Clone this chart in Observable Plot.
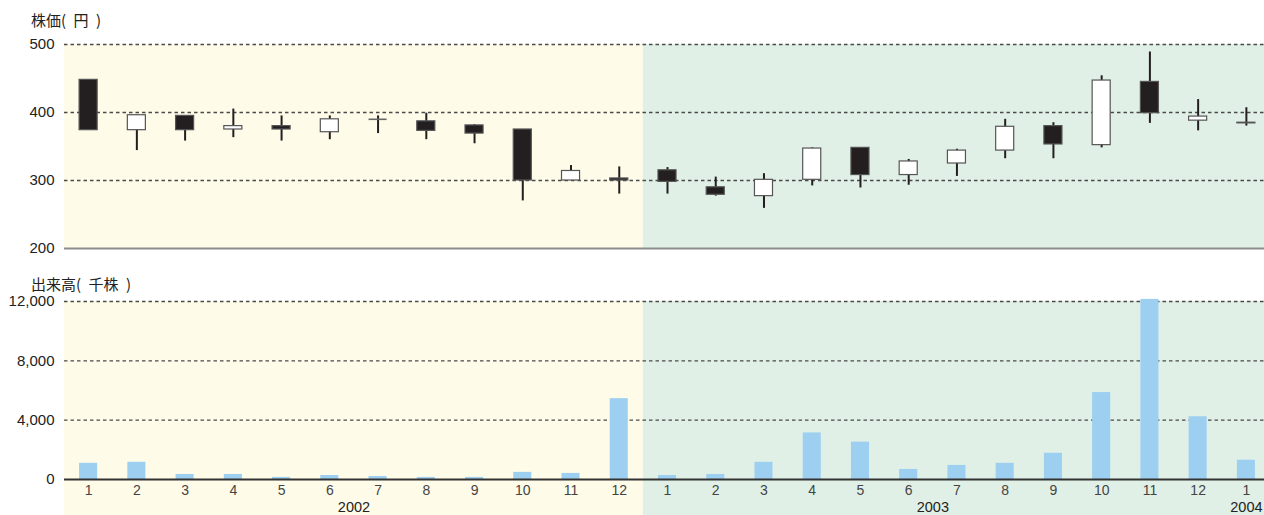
<!DOCTYPE html>
<html><head><meta charset="utf-8">
<script src="https://cdn.jsdelivr.net/npm/d3@7"></script>
<script src="https://cdn.jsdelivr.net/npm/@observablehq/plot@0.6"></script>
<style>
html,body{margin:0;padding:0;overflow:hidden;background:#fff;width:1264px;height:515px}
#wrap{position:relative;width:1264px;height:515px;overflow:hidden}
#top{position:absolute;left:0;top:0;width:1270px}
#bot{position:absolute;left:0;top:260px;width:1270px}
.title{position:absolute;left:31px;font-family:"Noto Sans CJK JP",sans-serif;font-size:15px;line-height:15px;color:#222;z-index:2;white-space:pre}
svg{display:block;max-width:none !important}
</style></head><body>
<div id="wrap">
<div id="top"></div>
<div id="bot"></div>
<div class="title" style="top:12px">株価(&#8194;円&#8194;)</div>
<div class="title" style="top:276px">出来高(&#8194;千株&#8194;)</div>
</div>
<script>
// ---- data ----
const monthLabels = ["1","2","3","4","5","6","7","8","9","10","11","12",
                     "1","2","3","4","5","6","7","8","9","10","11","12","1"];
const years = [2002,2002,2002,2002,2002,2002,2002,2002,2002,2002,2002,2002,
               2003,2003,2003,2003,2003,2003,2003,2003,2003,2003,2003,2003,2004];
const priceOpen  = [448,374,395,375,380,371,390,387,381,375,300,303, 315,290,277,301,348,308,325,344,380,352,445,388,385];
const priceHigh  = [448,396,395,405,395,395,395,399,382,375,322,320, 319,305,310,348,348,331,346,390,385,454,489,419,407];
const priceLow   = [374,344,358,363,358,360,369,360,354,270,300,280, 280,277,259,292,289,293,306,332,332,348,384,373,380];
const priceClose = [374,396,374,380,375,390,390,373,369,300,314,300, 298,279,301,347,308,328,344,379,353,447,399,394,384];
const volume     = [1090,1160,340,340,140,270,200,140,140,480,410,5450,
                    270,340,1160,3140,2520,680,950,1090,1770,5860,12140,4230,1300];
const priceTicks  = [200,300,400,500];
const volumeTicks = [0,4000,8000,12000];
const yearFill = {2002:"#fefbe9", 2003:"#e1f0e6", 2004:"#e1f0e6"};

// ---- derived tables ----
const rows = monthLabels.map((m,i)=>({i, month:m, year:years[i], fill:yearFill[years[i]],
  open:priceOpen[i], high:priceHigh[i], low:priceLow[i], close:priceClose[i], volume:volume[i]}));
const n = rows.length;
const yearSpans = d3.groups(rows, d=>d.year).map(([year, rs]) => ({
  year, mid: d3.mean(rs, d=>d.i)}));
const bgSpans = d3.groups(rows, d=>d.fill).map(([fill, rs]) => ({
  fill, x1: d3.min(rs, d=>d.i) - 0.5, x2: d3.max(rs, d=>d.i) + 0.5}));

const HW = 0.187; // half body width in band units
const font = "'Liberation Sans', Arial, sans-serif";
const common = {width:1270, marginLeft:64, marginRight:0,
  style:{fontFamily:font, fontSize:"14px", color:"#222", background:"transparent", overflow:"visible", maxWidth:"none"}};
const dash = {stroke:"#4a4a4a", strokeWidth:1.4, strokeDasharray:"3.5,3"};

const topChart = Plot.plot({
  ...common, height:260, marginTop:44, marginBottom:12,
  x:{domain:[-0.5, n-0.5], axis:null},
  y:{domain:[priceTicks[0], priceTicks[priceTicks.length-1]]},
  color:{type:"identity"},
  marks:[
    Plot.rect(bgSpans, {x1:"x1", x2:"x2", y1:priceTicks[0], y2:priceTicks[priceTicks.length-1], fill:"fill"}),
    Plot.ruleY(priceTicks.slice(1), dash),
    Plot.ruleY(priceTicks.slice(0,1), {stroke:"#8c8c8c", strokeWidth:2}),
    Plot.ruleX(rows, {x:"i", y1:"low", y2:"high", stroke:"#231f20", strokeWidth:2}),
    Plot.rect(rows.filter(d=>d.open!==d.close), {x1:d=>d.i-HW, x2:d=>d.i+HW,
      y1:d=>Math.min(d.open,d.close), y2:d=>Math.max(d.open,d.close),
      fill:d=>d.close>d.open?"#ffffff":"#231f20", stroke:"#555", strokeWidth:1.2}),
    Plot.ruleY(rows.filter(d=>d.open===d.close), {y:"open", x1:d=>d.i-HW, x2:d=>d.i+HW, stroke:"#666", strokeWidth:1.6}),
    Plot.axisY({ticks:priceTicks, tickSize:0, tickPadding:10, fontSize:15, fill:"#222", label:null})
  ]
});
document.getElementById("top").append(topChart);

const botChart = Plot.plot({
  ...common, height:255, marginTop:41, marginBottom:36,
  x:{domain:[-0.5, n-0.5]},
  y:{domain:[volumeTicks[0], volumeTicks[volumeTicks.length-1]]},
  color:{type:"identity"},
  marks:[
    Plot.rect(bgSpans, {x1:"x1", x2:"x2", y1:volumeTicks[0], y2:volumeTicks[volumeTicks.length-1], fill:"fill", insetBottom:-36}),
    Plot.ruleY(volumeTicks.slice(1), dash),
    Plot.rectY(rows, {x1:d=>d.i-HW, x2:d=>d.i+HW, y1:0, y2:"volume", fill:"#9ccff0"}),
    Plot.ruleY(volumeTicks.slice(0,1), {stroke:"#333", strokeWidth:2}),
    Plot.axisY({ticks:volumeTicks, tickFormat:d3.format(","), tickSize:0, tickPadding:10, fontSize:15, fill:"#222", label:null}),
    Plot.axisX({ticks:rows.map(d=>d.i), tickFormat:i=>monthLabels[i], tickSize:0, tickPadding:6, fontSize:14, fill:"#444", label:null}),
    Plot.text(yearSpans, {x:"mid", y:volumeTicks[0], text:d=>String(d.year), dy:28, fontSize:14.5, fill:"#222", lineAnchor:"middle"})
  ]
});
document.getElementById("bot").append(botChart);
</script>
</body></html>
